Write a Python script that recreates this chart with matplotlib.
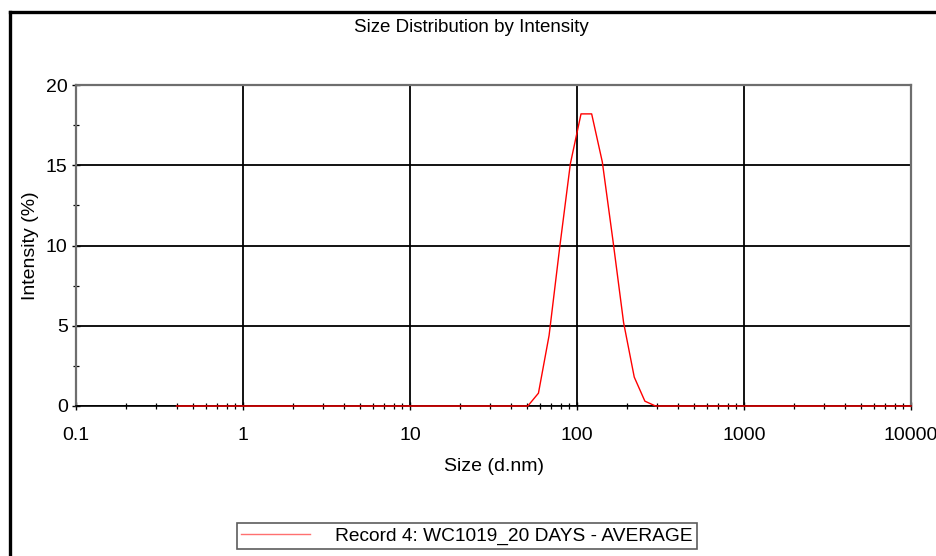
import numpy             as np
import matplotlib
matplotlib.use("Agg")
import matplotlib.pyplot as plt
from   matplotlib.lines  import Line2D
from   matplotlib.ticker import LogLocator, FixedLocator, NullFormatter, FuncFormatter


# size bins (d.nm) and intensity (%)
sizes = [0.3999, 0.4632, 0.5365, 0.6213, 0.7195, 0.8332, 0.9650, 1.117, 1.294, 1.499,
         1.736, 2.010, 2.328, 2.696, 3.122, 3.615, 4.187, 4.849, 5.615, 6.503,
         7.531, 8.721, 10.10, 11.70, 13.54, 15.69, 18.17, 21.04, 24.36, 28.21,
         32.67, 37.84, 43.82, 50.75, 58.77, 68.06, 78.82, 91.28, 105.7, 122.4,
         141.8, 164.2, 190.1, 220.2, 255.0, 295.3, 342.0, 396.1, 458.7, 531.2,
         615.1, 712.4, 825.0, 955.4, 1106, 1281, 1484, 1718, 1990, 2305,
         2669, 3091, 3580, 4145, 4801, 5560, 6439, 7456, 8635, 10000]

intensity = [0.0, 0.0, 0.0, 0.0, 0.0, 0.0, 0.0, 0.0, 0.0, 0.0,
             0.0, 0.0, 0.0, 0.0, 0.0, 0.0, 0.0, 0.0, 0.0, 0.0,
             0.0, 0.0, 0.0, 0.0, 0.0, 0.0, 0.0, 0.0, 0.0, 0.0,
             0.0, 0.0, 0.0, 0.0, 0.8, 4.4, 9.9, 15.1, 18.2, 18.2,
             15.2, 10.3, 5.2, 1.8, 0.3, 0.0, 0.0, 0.0, 0.0, 0.0,
             0.0, 0.0, 0.0, 0.0, 0.0, 0.0, 0.0, 0.0, 0.0, 0.0,
             0.0, 0.0, 0.0, 0.0, 0.0, 0.0, 0.0, 0.0, 0.0, 0.0]

series_label = "Record 4: WC1019_20 DAYS - AVERAGE"
y_ticks      = [0, 5, 10, 15, 20]


plt.rcParams['font.family'] = ['Liberation Sans', 'DejaVu Sans']

W, H = 936, 556
fig  = plt.figure(figsize = (W/100, H/100), dpi = 100)
ax0  = fig.add_axes([76/W, 1 - 406/H, (911 - 76)/W, (406 - 85)/H])

# outer frame (left + top, runs off the picture)
fig.add_artist(Line2D([10/W, 10/W], [-0.1, 1 - 11.5/H], color = "k", linewidth = 2.4))
fig.add_artist(Line2D([10/W, 1.1], [1 - 11.5/H, 1 - 11.5/H], color = "k", linewidth = 2.4))

ax0.plot(sizes, intensity, color = "#ff0000", linewidth = 1.0, label = series_label,
         zorder = 5, clip_on = False)

ax0.set_xscale("log")
ax0.set_xlim(0.1, 10000)
ax0.set_ylim(0, 20)

ax0.xaxis.set_major_locator(LogLocator(base = 10, numticks = 10))
ax0.xaxis.set_minor_locator(LogLocator(base = 10, subs = np.arange(2, 10), numticks = 20))
ax0.xaxis.set_minor_formatter(NullFormatter())
ax0.xaxis.set_major_formatter(FuncFormatter(lambda v, p: "%g" % v))
ax0.yaxis.set_major_locator(FixedLocator(y_ticks))
ax0.yaxis.set_minor_locator(FixedLocator([2.5, 7.5, 12.5, 17.5]))

ax0.grid(True, which = "major", color = "k", linewidth = 1.3)
ax0.tick_params(axis = "both", which = "major", direction = "inout", length = 6,
                width = 1.0, labelsize = 14, color = "k")
ax0.tick_params(axis = "x", which = "major", pad = 12)
ax0.tick_params(axis = "y", which = "major", pad = 3)
ax0.tick_params(axis = "both", which = "minor", direction = "inout", length = 5,
                width = 0.9, color = "k")

for s in ["left", "top", "right"]:
    ax0.spines[s].set_color("#6e6e6e")
    ax0.spines[s].set_linewidth(1.6)
ax0.spines["bottom"].set_color("k")
ax0.spines["bottom"].set_linewidth(1.2)

ax0.set_xlabel("Size (d.nm)", fontsize = 14, labelpad = 10)
ax0.set_ylabel("Intensity (%)", fontsize = 14, labelpad = 5)
fig.text(471/W, 1 - 27.5/H, "Size Distribution by Intensity", fontsize = 13.5,
         ha = "center", va = "center")

leg = fig.legend(loc = "center", bbox_to_anchor = (467/W, 1 - 536/H), fontsize = 13.8,
                 frameon = True, fancybox = False, handlelength = 3.6,
                 handletextpad = 1.3, borderpad = 0.2, borderaxespad = 0)
leg.get_frame().set_edgecolor("#333333")
leg.get_frame().set_linewidth(1.2)
leg.get_lines()[0].set_color("#ff7070")

plt.savefig("out.png", dpi = 100)
